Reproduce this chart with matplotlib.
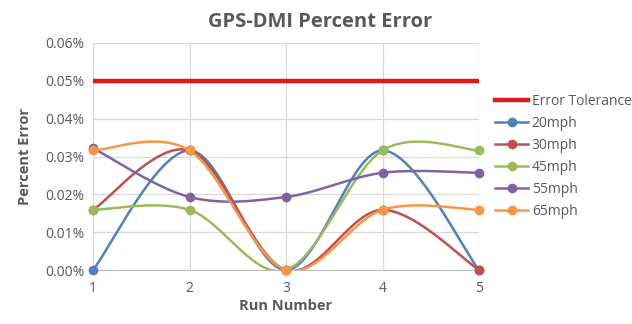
import numpy as np
import matplotlib
matplotlib.use("Agg")
import matplotlib.pyplot as plt
from matplotlib.lines import Line2D

plt.rcParams['font.family'] = ['Open Sans', 'DejaVu Sans']

runs = [1, 2, 3, 4, 5]
tolerance = 0.05
series_names = ["20mph", "30mph", "45mph", "55mph", "65mph"]
mph20 = [0.0, 0.0316, 0.0, 0.0316, 0.0]
mph30 = [0.0159, 0.0316, 0.0, 0.0159, 0.0]
mph45 = [0.0159, 0.0159, 0.0, 0.0316, 0.0316]
mph55 = [0.0322, 0.0193, 0.0193, 0.0257, 0.0257]
mph65 = [0.0316, 0.0316, 0.0, 0.0159, 0.0159]
y_ticks = [0.0, 0.01, 0.02, 0.03, 0.04, 0.05, 0.06]

colors = ["#4F81BD", "#C0504D", "#9BBB59", "#8064A2", "#F79646"]
text_color = "#595959"


def smooth(xs, ys, n=40):
    """Cubic Bezier smoothing through every point (Catmull-Rom style tangents)."""
    xs = np.asarray(xs, float)
    ys = np.asarray(ys, float)
    px = np.concatenate([[xs[0]], xs, [xs[-1]]])
    py = np.concatenate([[ys[0]], ys, [ys[-1]]])
    out_x, out_y = [], []
    t = np.linspace(0, 1, n)
    for i in range(1, len(px) - 2):
        p1x, p1y = px[i], py[i]
        p2x, p2y = px[i + 1], py[i + 1]
        c1x = p1x + (p2x - px[i - 1]) / 6
        c1y = p1y + (p2y - py[i - 1]) / 6
        c2x = p2x - (px[i + 2] - p1x) / 6
        c2y = p2y - (py[i + 2] - p1y) / 6
        b0 = (1 - t) ** 3
        b1 = 3 * (1 - t) ** 2 * t
        b2 = 3 * (1 - t) * t ** 2
        b3 = t ** 3
        out_x.append(b0 * p1x + b1 * c1x + b2 * c2x + b3 * p2x)
        out_y.append(b0 * p1y + b1 * c1y + b2 * c2y + b3 * p2y)
    return np.concatenate(out_x), np.concatenate(out_y)


fig = plt.figure(figsize=(6.32, 3.24), dpi=100)
ax = fig.add_axes([93 / 632, 1 - 270 / 324, (479 - 93) / 632, (270 - 43) / 324])

ax.plot([runs[0], runs[-1]], [tolerance, tolerance], color="#E2161B",
        lw=3.2, solid_capstyle="butt", zorder=3)

for name, vals, c in zip(series_names, [mph20, mph30, mph45, mph55, mph65], colors):
    sx, sy = smooth(runs, vals)
    ax.plot(sx, sy, color=c, lw=1.8, zorder=4)
    ax.plot(runs, vals, "o", color=c, ms=6, zorder=5, clip_on=False)

ax.set_xlim(1, 5)
ax.set_ylim(0, 0.06)
ax.set_xticks(runs)
ax.set_yticks(y_ticks)
ax.set_yticklabels([f"{v:.2f}%" for v in y_ticks])
ax.grid(True, color="#D9D9D9", lw=0.9, zorder=0)
ax.set_axisbelow(True)
for s in ["top", "right", "left"]:
    ax.spines[s].set_visible(False)
ax.spines["bottom"].set_color("#BFBFBF")
ax.tick_params(length=0, colors=text_color, labelsize=10, pad=6)
ax.tick_params(axis="x", pad=8)

ax.set_xlabel("Run Number", fontsize=10.5, fontweight="bold", color=text_color, labelpad=2)
ax.set_ylabel("Percent Error", fontsize=10.5, fontweight="bold", color=text_color, labelpad=10)
fig.text(320 / 632, 1 - 22 / 324, "GPS-DMI Percent Error", ha="center", va="center",
         fontsize=14.5, fontweight="bold", color=text_color)

handles = [Line2D([], [], color="#E2161B", lw=3.2)]
for c in colors:
    handles.append(Line2D([], [], color=c, lw=1.8, marker="o", ms=6))
leg = fig.legend(handles, ["Error Tolerance"] + series_names, loc="upper left",
                 bbox_to_anchor=(495 / 632, 1 - 94 / 324), frameon=False,
                 fontsize=10, handlelength=2.4, handletextpad=0.25, labelspacing=0.5,
                 borderaxespad=0, borderpad=0)
for t in leg.get_texts():
    t.set_color(text_color)

fig.savefig("out.png", dpi=100)
